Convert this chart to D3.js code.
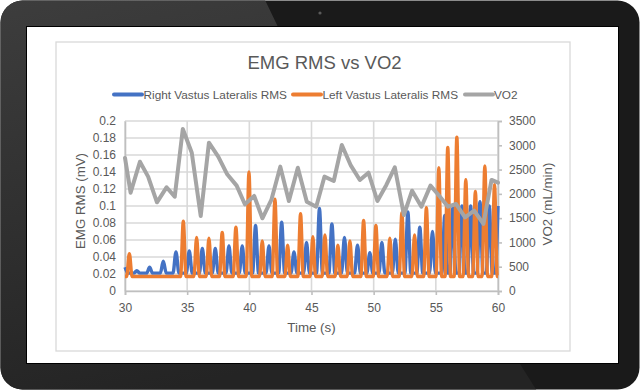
<!DOCTYPE html>
<html><head><meta charset="utf-8">
<script src="https://cdn.jsdelivr.net/npm/d3@7/dist/d3.min.js"></script>
<style>html,body{margin:0;padding:0;background:#fff;}svg{display:block;}</style>
</head><body>
<svg id="c" width="640" height="391"></svg>
<script>
// ---- data ----
const chartTitle = "EMG RMS vs VO2";
const seriesNames = ["Right Vastus Lateralis RMS", "Left Vastus Lateralis RMS", "VO2"];
const xTicks = [30, 35, 40, 45, 50, 55, 60];
const yLeftTicks = [0, 0.02, 0.04, 0.06, 0.08, 0.1, 0.12, 0.14, 0.16, 0.18, 0.2];
const yRightTicks = [0, 500, 1000, 1500, 2000, 2500, 3000, 3500];

// Right Vastus Lateralis RMS bursts (peak time s, peak mV)
const rightPeakTime  = [30.0, 30.95, 31.98, 33.08, 34.10, 35.17, 36.22, 37.26, 38.36, 39.43, 40.50, 41.58, 42.60, 43.59, 44.60, 45.64, 46.64, 47.65, 48.70, 49.69, 50.66, 51.74, 52.75, 53.71, 54.73, 55.72, 56.37, 57.10, 57.80, 58.55, 59.30, 60.0];
const rightPeakValue = [0.028, 0.024, 0.028, 0.035, 0.046, 0.047, 0.050, 0.050, 0.053, 0.053, 0.077, 0.053, 0.081, 0.046, 0.057, 0.097, 0.079, 0.063, 0.054, 0.045, 0.057, 0.061, 0.093, 0.075, 0.070, 0.089, 0.098, 0.100, 0.100, 0.105, 0.100, 0.100];
const rightBaseline = 0.021;

// Left Vastus Lateralis RMS bursts
const leftPeakTime  = [30.35, 34.69, 35.76, 36.75, 37.82, 38.92, 39.97, 41.04, 42.06, 43.08, 44.12, 45.11, 46.08, 47.12, 48.09, 49.19, 50.18, 51.30, 52.27, 53.29, 54.24, 55.24, 55.96, 56.69, 57.41, 58.18, 58.94, 59.72];
const leftPeakValue = [0.044, 0.082, 0.063, 0.062, 0.069, 0.075, 0.140, 0.059, 0.108, 0.054, 0.091, 0.064, 0.066, 0.054, 0.059, 0.083, 0.077, 0.062, 0.092, 0.066, 0.098, 0.145, 0.169, 0.181, 0.131, 0.117, 0.147, 0.125];
const leftBaseline = 0.017;

// VO2 (mL/min)
const vo2Time  = [30.0, 30.45, 31.2, 31.86, 32.57, 33.34, 34.0, 34.65, 35.37, 36.09, 36.75, 37.5, 38.22, 38.98, 39.64, 40.39, 41.05, 41.77, 42.49, 43.18, 43.9, 44.62, 45.38, 46.04, 46.79, 47.44, 48.17, 48.89, 49.58, 50.3, 51.02, 51.7, 52.43, 53.09, 53.84, 54.57, 55.22, 55.98, 56.63, 57.35, 58.08, 58.83, 59.48, 60.0];
const vo2Value = [2740, 2024, 2662, 2354, 1826, 2135, 1942, 3336, 2848, 1544, 3054, 2766, 2403, 2169, 1785, 1956, 1497, 1874, 2560, 1853, 2539, 1839, 1736, 2354, 2265, 3006, 2580, 2286, 2436, 1853, 2183, 2547, 1565, 2065, 1736, 2169, 1977, 1736, 1791, 1517, 1654, 1380, 2286, 2230];

// ---- drawing ----
const svg = d3.select("#c");
const FONT = "'Liberation Sans', Arial, sans-serif";
const TXT = "#595959";
const BLUE = "#4472c4", ORANGE = "#ed7d31", GRAY = "#a5a5a5";

// tablet frame
const defs = svg.append("defs");
defs.append("clipPath").attr("id", "tab").append("rect")
  .attr("x", 0.5).attr("y", 0.5).attr("width", 639).attr("height", 389).attr("rx", 22);
const g1 = defs.append("linearGradient").attr("id", "refl").attr("x1", 0).attr("y1", 0).attr("x2", 0.3).attr("y2", 1);
g1.append("stop").attr("offset", 0).attr("stop-color", "#3d3d3d");
g1.append("stop").attr("offset", 1).attr("stop-color", "#242424");
const frame = svg.append("g").attr("clip-path", "url(#tab)");
frame.append("rect").attr("width", 640).attr("height", 391).attr("fill", "#1a1a1a");
frame.append("path").attr("fill", "url(#refl)")
  .attr("d", "M0,0 L265,0 L278,27 L27,27 L27,364 L520,364 L537,391 L0,391 Z");
svg.append("circle").attr("cx", 320).attr("cy", 13).attr("r", 1.6).attr("fill", "#5a5a5a");
svg.append("rect").attr("x", 26).attr("y", 26).attr("width", 593).attr("height", 338).attr("fill", "#000");
svg.append("rect").attr("x", 27).attr("y", 27).attr("width", 591).attr("height", 336).attr("fill", "#fff");

// chart border
svg.append("rect").attr("x", 56).attr("y", 42).attr("width", 514).attr("height", 309)
  .attr("fill", "#fff").attr("stroke", "#d9d9d9").attr("stroke-width", 1.3);

const x = d3.scaleLinear().domain([30, 60]).range([125, 498]);
const yL = d3.scaleLinear().domain([0, 0.2]).range([291, 121]);
const yR = d3.scaleLinear().domain([0, 3500]).range([291, 121]);

// gridlines
const grid = svg.append("g").attr("stroke", "#d9d9d9").attr("stroke-width", 1.6);
grid.selectAll(".h").data(yLeftTicks).join("line")
  .attr("x1", 125).attr("x2", 498).attr("y1", d => yL(d)).attr("y2", d => yL(d));
grid.selectAll(".v").data(xTicks).join("line")
  .attr("y1", 121).attr("y2", 291).attr("x1", d => x(d)).attr("x2", d => x(d));

// axes
const fmtL = d => (d === 0 ? "0" : String(+d.toFixed(2)));
const axL = svg.append("g").attr("transform", "translate(125,0)")
  .call(d3.axisLeft(yL).tickValues(yLeftTicks).tickFormat(fmtL).tickSize(0).tickPadding(9));
const axR = svg.append("g").attr("transform", "translate(498,0)")
  .call(d3.axisRight(yR).tickValues(yRightTicks).tickFormat(d3.format("d")).tickSize(4).tickPadding(7));
const axB = svg.append("g").attr("transform", "translate(0,291)")
  .call(d3.axisBottom(x).tickValues(xTicks).tickFormat(d3.format("d")).tickSize(4).tickPadding(8));
[axL, axR, axB].forEach(a => {
  a.select(".domain").attr("stroke", "#bfbfbf").attr("stroke-width", 1.6);
  a.selectAll(".tick line").attr("stroke", "#bfbfbf").attr("stroke-width", 1.6);
  a.selectAll("text").attr("fill", TXT).attr("font-family", FONT).attr("font-size", 12);
});

// EMG series built from burst peaks
function burstPoints(times, values, base, hw) {
  const pts = [];
  times.forEach((t, i) => {
    if (t - hw > 30) pts.push([t - hw, base]);
    pts.push([t, values[i]]);
    if (t + hw < 60) pts.push([t + hw, base]);
  });
  return pts;
}
const line = d3.line().x(d => x(d[0])).y(d => yL(d[1])).curve(d3.curveMonotoneX);
const rightPts = burstPoints(rightPeakTime, rightPeakValue, rightBaseline, 0.24);
const leftPts = [[30, leftBaseline]].concat(burstPoints(leftPeakTime, leftPeakValue, leftBaseline, 0.22));
leftPts.push([60, leftBaseline]);

svg.append("path").attr("d", line(rightPts)).attr("fill", "none")
  .attr("stroke", BLUE).attr("stroke-width", 3.4).attr("stroke-linejoin", "round");
svg.append("path").attr("d", line(leftPts)).attr("fill", "none")
  .attr("stroke", ORANGE).attr("stroke-width", 3.4).attr("stroke-linejoin", "round");

// VO2
const vo2Line = d3.line().x((d, i) => x(vo2Time[i])).y(d => yR(d));
svg.append("path").attr("d", vo2Line(vo2Value)).attr("fill", "none")
  .attr("stroke", GRAY).attr("stroke-width", 4).attr("stroke-linejoin", "round").attr("stroke-linecap", "round");

// title
svg.append("text").attr("x", 324.5).attr("y", 69).attr("text-anchor", "middle")
  .attr("font-family", FONT).attr("font-size", 18.5).attr("fill", TXT).text(chartTitle);

// legend
const legendItems = [
  {name: seriesNames[0], color: BLUE, x1: 114, x2: 142, tx: 143.5},
  {name: seriesNames[1], color: ORANGE, x1: 293, x2: 321, tx: 322.5},
  {name: seriesNames[2], color: GRAY, x1: 465, x2: 493, tx: 494}
];
const lg = svg.append("g");
legendItems.forEach(it => {
  lg.append("line").attr("x1", it.x1).attr("x2", it.x2).attr("y1", 94.5).attr("y2", 94.5)
    .attr("stroke", it.color).attr("stroke-width", 4).attr("stroke-linecap", "round");
  lg.append("text").attr("x", it.tx).attr("y", 98.8).attr("font-family", FONT)
    .attr("font-size", 11.8).attr("fill", TXT).text(it.name);
});

// axis titles
svg.append("text").attr("x", 311.5).attr("y", 332).attr("text-anchor", "middle")
  .attr("font-family", FONT).attr("font-size", 13.3).attr("fill", TXT).text("Time (s)");
svg.append("text").attr("transform", "translate(85,201) rotate(-90)").attr("text-anchor", "middle")
  .attr("font-family", FONT).attr("font-size", 13.3).attr("fill", TXT).text("EMG RMS (mV)");
svg.append("text").attr("transform", "translate(552,204) rotate(-90)").attr("text-anchor", "middle")
  .attr("font-family", FONT).attr("font-size", 13.3).attr("fill", TXT).text("VO2 (mL/min)");
</script>
</body></html>
